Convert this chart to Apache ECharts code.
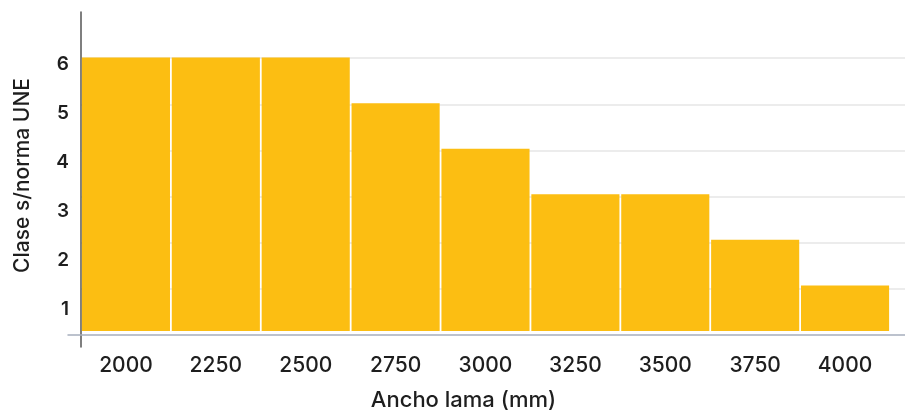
<!DOCTYPE html>
<html>
<head>
<meta charset="utf-8">
<script src="https://cdn.jsdelivr.net/npm/echarts@6/dist/echarts.min.js"></script>
<style>
  html, body { margin: 0; padding: 0; background: #ffffff; }
  #chart { width: 905px; height: 416px; }
</style>
</head>
<body>
<div id="chart"></div>
<script>
const categories = ['2000', '2250', '2500', '2750', '3000', '3250', '3500', '3750', '4000'];
const claseValues = [6, 6, 6, 5, 4, 3, 3, 2, 1];
const yTickLabels = [1, 2, 3, 4, 5, 6];
const xAxisTitle = 'Ancho lama (mm)';
const yAxisTitle = 'Clase s/norma UNE';

const FONT = 'Inter';
const TEXT = '#1e1e1e';
const BAR = '#FCBE12';

const chart = echarts.init(document.getElementById('chart'), null, { renderer: 'canvas' });

chart.setOption({
  animation: false,
  backgroundColor: '#ffffff',
  grid: [
    { left: 81, right: 15, top: 12, bottom: 81 },   // bars
    { left: 81, right: 0, top: 12, bottom: 81 },    // gridlines
    { left: 68, right: 0, top: 12, bottom: 81 },    // baseline
    { left: 81, right: 0, top: 12, bottom: 69 }     // y axis line
  ],
  xAxis: [
    {
      gridIndex: 0, type: 'category', data: categories,
      axisLine: { show: false }, axisTick: { show: false },
      axisLabel: { color: TEXT, fontFamily: FONT, fontSize: 21, fontWeight: 500, margin: 24 },
      name: xAxisTitle, nameLocation: 'middle', nameGap: 58,
      nameTextStyle: { color: TEXT, fontFamily: FONT, fontSize: 22, fontWeight: 500, padding: [0, 44, 0, 0] }
    },
    { gridIndex: 1, type: 'value', min: 0, max: 1, show: false },
    {
      gridIndex: 2, type: 'value', min: 0, max: 1,
      axisLine: { show: true, lineStyle: { color: '#a7afbd', width: 1.5 } },
      axisTick: { show: false }, axisLabel: { show: false }, splitLine: { show: false }
    },
    { gridIndex: 3, type: 'value', min: 0, max: 1, show: false }
  ],
  yAxis: [
    { gridIndex: 0, type: 'value', min: 0, max: 7, show: false },
    {
      gridIndex: 1, type: 'value', min: 0, max: 7, interval: 1,
      axisLine: { show: false }, axisTick: { show: false }, axisLabel: { show: false },
      splitLine: { show: true, showMinLine: false, showMaxLine: false,
        lineStyle: { color: '#e6e6e6', width: 1.5 } }
    },
    { gridIndex: 2, type: 'value', min: 0, max: 7, show: false },
    {
      gridIndex: 3, type: 'value', min: 0, max: 1,
      axisLine: { show: true, lineStyle: { color: '#555555', width: 1.5 } },
      axisTick: { show: false }, axisLabel: { show: false }, splitLine: { show: false }
    },
    {
      gridIndex: 0, type: 'value', min: 0.556, max: 7.07, position: 'left',
      axisLine: { show: false }, axisTick: { show: false }, splitLine: { show: false },
      axisLabel: { customValues: yTickLabels, color: TEXT, fontFamily: FONT, fontSize: 19, fontWeight: 600, margin: 12 },
      name: yAxisTitle, nameLocation: 'middle', nameGap: 48,
      nameTextStyle: { color: TEXT, fontFamily: FONT, fontSize: 21, fontWeight: 500, padding: [0, 8, 0, 0] }
    }
  ],
  series: [
    {
      type: 'bar', xAxisIndex: 0, yAxisIndex: 0,
      data: claseValues,
      barCategoryGap: '2%',
      itemStyle: { color: BAR },
      z: 3
    }
  ]
});
</script>
</body>
</html>
